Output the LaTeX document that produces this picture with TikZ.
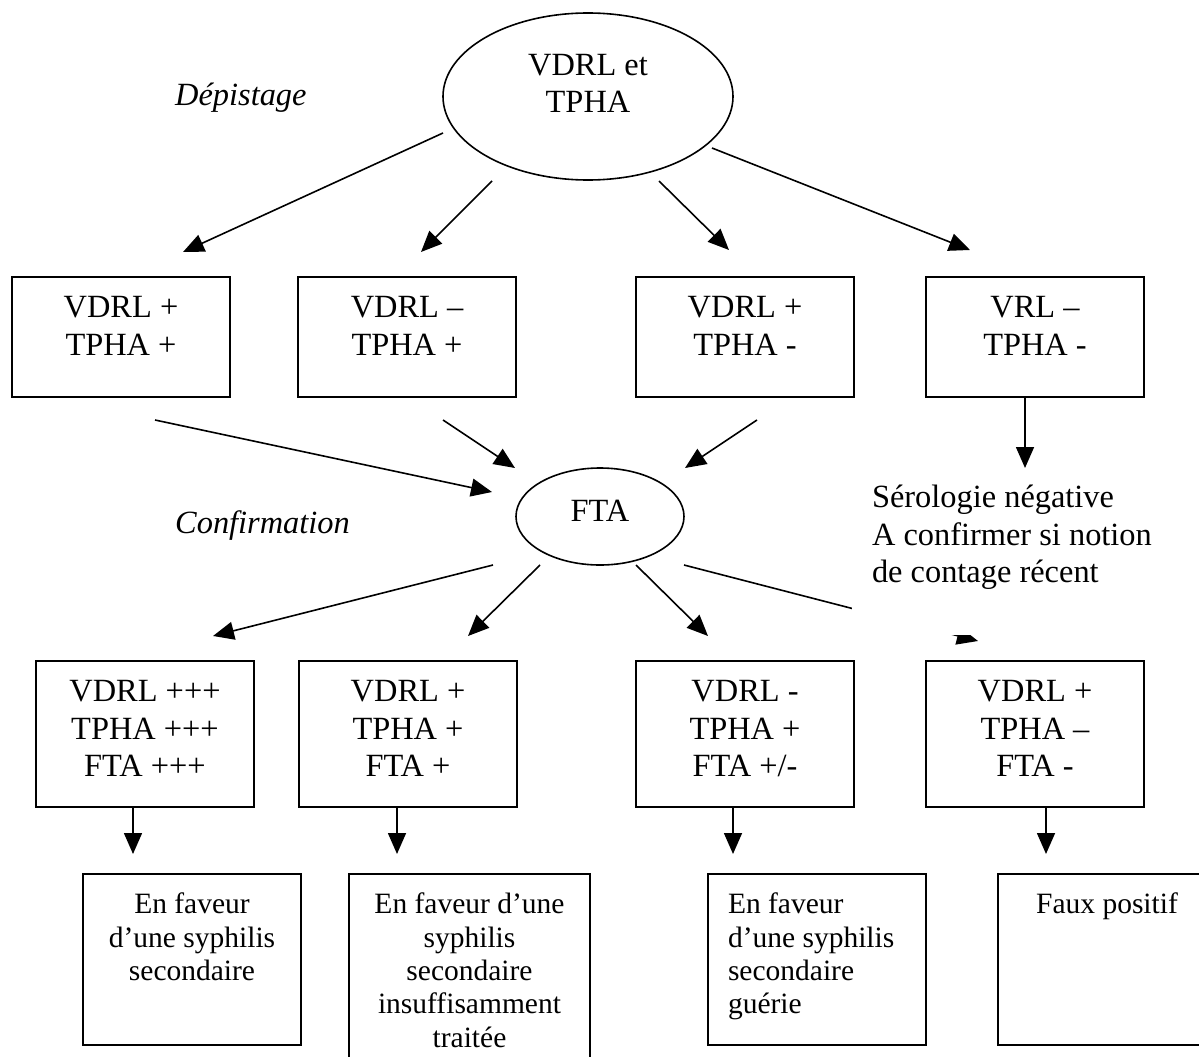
\documentclass[tikz,border=0pt]{standalone}
\usepackage{fontspec}
\setmainfont{Liberation Serif}
\usetikzlibrary{shapes.geometric,arrows.meta}
\newcommand\bigf{\fontsize{32.4}{37.5}\selectfont}
\newcommand\smallf{\fontsize{29.5}{33.4}\selectfont}
% #1 width, #2 height, #3 first baseline, #4 text
\newcommand\ctb[4]{\parbox[c][#2][t]{#1}{\centering\rule{0pt}{#3}#4}}
\newcommand\ltb[4]{\parbox[c][#2][t]{#1}{\raggedright\leftskip=20pt\rule{0pt}{#3}#4}}
\begin{document}
\begin{tikzpicture}[x=1pt,y=-1pt,
  boxnode/.style={draw,line width=2pt,rectangle,inner sep=0pt,outer sep=0pt,anchor=north west},
  ellnode/.style={draw,line width=1.6pt,ellipse,inner sep=0pt,outer sep=0pt},
  conn/.style={line width=1.6pt,-{Triangle[length=21pt,width=18pt]}},
  every node/.append style={font=\bigf}]
\useasboundingbox (0,0) rectangle (1199,1057);
\clip (0,0) rectangle (1199,1057);

% ellipses
\node[ellnode,minimum width=290pt,minimum height=167pt] (e1) at (588,96.5) {};
\node[align=center,inner sep=0pt] (e1t) at (588,83.5) {VDRL et\\TPHA};
\node[ellnode,minimum width=168pt,minimum height=97pt,text depth=12pt] (fta) at (600,516.5) {FTA};

% side labels
\node[anchor=base west,inner sep=0pt,font=\bigf\itshape] (dep) at (175,105.5) {Dépistage};
\node[anchor=base west,inner sep=0pt,font=\bigf\itshape] (conf) at (175,533.5) {Confirmation};

% top row
\node[boxnode] (t1) at (12,277)  {\ctb{218pt}{120pt}{40.5pt}{VDRL +\\TPHA +}};
\node[boxnode] (t2) at (298,277) {\ctb{218pt}{120pt}{40.5pt}{VDRL –\\TPHA +}};
\node[boxnode] (t3) at (636,277) {\ctb{218pt}{120pt}{40.5pt}{VDRL +\\TPHA -}};
\node[boxnode] (t4) at (926,277) {\ctb{218pt}{120pt}{40.5pt}{VRL –\\TPHA -}};

% bottom row
\node[boxnode] (m1) at (36,661)  {\ctb{218pt}{146pt}{40.5pt}{VDRL +++\\TPHA +++\\FTA +++}};
\node[boxnode] (m2) at (299,661) {\ctb{218pt}{146pt}{40.5pt}{VDRL +\\TPHA +\\FTA +}};
\node[boxnode] (m3) at (636,661) {\ctb{218pt}{146pt}{40.5pt}{VDRL -\\TPHA +\\FTA +/-}};
\node[boxnode] (m4) at (926,661) {\ctb{218pt}{146pt}{40.5pt}{VDRL +\\TPHA –\\FTA -}};

% results
\node[boxnode,font=\smallf] (r1) at (83,874)  {\ctb{218pt}{171pt}{39.6pt}{En faveur\\d’une syphilis\\secondaire}};
\node[boxnode,font=\smallf] (r2) at (349,874) {\ctb{241pt}{200pt}{39.6pt}{En faveur d’une\\syphilis\\secondaire\\insuffisamment\\traitée}};
\node[boxnode,font=\smallf] (r3) at (708,874) {\ltb{218pt}{171pt}{39.6pt}{En faveur\\d’une syphilis\\secondaire\\guérie}};
\node[boxnode,font=\smallf] (r4) at (998,874) {\ctb{218pt}{171pt}{39.6pt}{Faux positif}};

% connector end points
\coordinate (a1s) at (443,133); \coordinate (a1e) at (183,252);
\coordinate (a2s) at (492,181); \coordinate (a2e) at (421,252);
\coordinate (a3s) at (659,181); \coordinate (a3e) at (729,250);
\coordinate (a4s) at (712,148); \coordinate (a4e) at (970,250);
\coordinate (b1s) at (155,420); \coordinate (b1e) at (492,492);
\coordinate (b2s) at (443,420); \coordinate (b2e) at (515,468);
\coordinate (b3s) at (757,420); \coordinate (b3e) at (685,468);
\coordinate (b4s) at (1025,397); \coordinate (b4e) at (1025,468);
\coordinate (c1s) at (493,565); \coordinate (c1e) at (213,636);
\coordinate (c2s) at (540,565); \coordinate (c2e) at (468,636);
\coordinate (c3s) at (636,565); \coordinate (c3e) at (708,636);
\coordinate (c4s) at (684,565); \coordinate (c4e) at (978,641);
\coordinate (d1s) at (133,807); \coordinate (d1e) at (133,854);
\coordinate (d2s) at (397,807); \coordinate (d2e) at (397,854);
\coordinate (d3s) at (733,807); \coordinate (d3e) at (733,854);
\coordinate (d4s) at (1046,807); \coordinate (d4e) at (1046,854);

\foreach \p in {a1,a2,a3,a4,b1,b2,b3,b4,c1,c2,c3,c4,d1,d2,d3,d4}
  \draw[conn] (\p s) -- (\p e);

% text block covering part of the last connector
\node[anchor=north west,fill=white,inner sep=0pt,outer sep=0pt] (sero) at (852,470)
  {\ltb{347pt}{165pt}{37.5pt}{Sérologie négative\\A confirmer si notion\\de contage récent}};
\end{tikzpicture}
\end{document}
